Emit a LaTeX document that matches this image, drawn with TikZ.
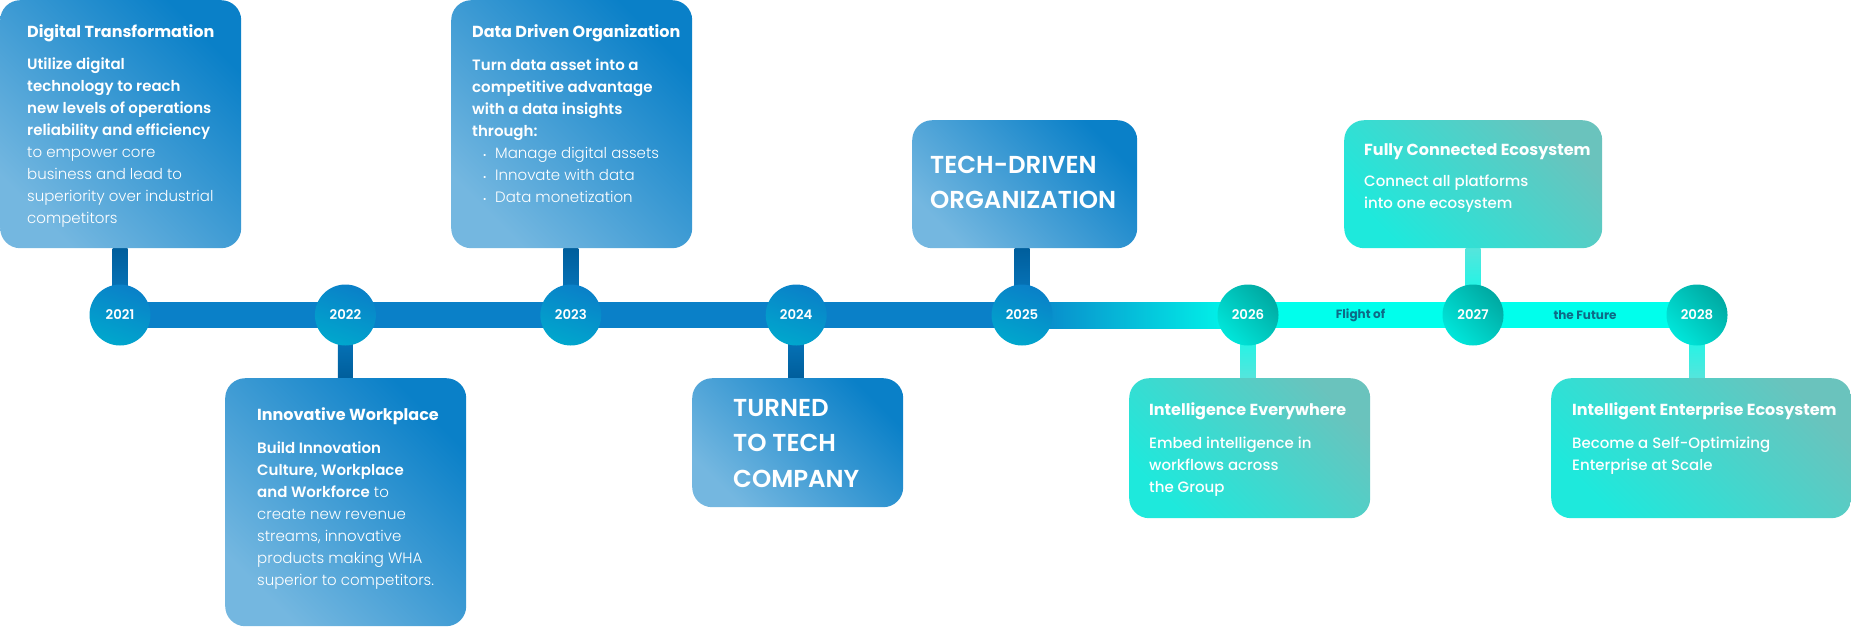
\documentclass[tikz,border=0pt]{standalone}
\usepackage{fontspec}
\setmainfont{Poppins}
\IfFontExistsTF{Poppins Light}{\newfontfamily\lightfont{Poppins Light}}{\def\lightfont{\mdseries}}
\IfFontExistsTF{Poppins SemiBold}{\newfontfamily\semifont{Poppins SemiBold}}{\def\semifont{\bfseries}}
\IfFontExistsTF{Poppins Medium}{\newfontfamily\mediumfont{Poppins Medium}}{\def\mediumfont{\mdseries}}
\usetikzlibrary{positioning,backgrounds,calc}

\definecolor{techblue}{HTML}{0A80C8}
\definecolor{techdark}{HTML}{005E9C}
\definecolor{techpale}{HTML}{74B7E0}
\definecolor{circblue}{HTML}{00A7CD}
\definecolor{futcyan}{HTML}{00FFEC}
\definecolor{futteal}{HTML}{00A9A2}
\definecolor{futmint}{HTML}{00E6DA}
\definecolor{futmuted}{HTML}{6AC3BD}
\definecolor{futbright}{HTML}{1EE9DC}
\definecolor{futstem}{HTML}{55E5DC}
\definecolor{flighttext}{HTML}{0E6A86}

\tikzset{
  plate/.style={rounded corners=20pt, inner sep=0pt, anchor=north west, shading angle=-45},
  blueplate/.style={plate, top color=techblue, bottom color=techpale, shading angle=-45},
  tealplate/.style={plate, top color=futmuted, bottom color=futbright, shading angle=-45},
  year/.style={circle, minimum size=61pt, inner sep=0pt, text=white,
    font=\fontsize{13.3}{13.3}\semifont},
  yearblue/.style={year, top color=techblue, bottom color=circblue, shading angle=-20},
  yearteal/.style={year, top color=futteal, bottom color=futmint, shading angle=-45},
  headline/.style={anchor=base west, inner sep=0pt, text=white,
    font=\fontsize{16}{22}\bfseries},
  bodytext/.style={anchor=base west, inner sep=0pt, text=white,
    font=\fontsize{15}{22}\lightfont},
  bigtext/.style={anchor=base west, inner sep=0pt, text=white,
    font=\fontsize{24.5}{35.5}\semifont},
  flight/.style={inner sep=0pt, text=flighttext, font=\fontsize{12}{12}\bfseries},
  stemup/.style={top color=techdark, bottom color=techblue},
  stemdown/.style={top color=techblue, bottom color=techdark},
  tealup/.style={top color=futstem, bottom color=futcyan},
  tealdown/.style={top color=futcyan, bottom color=futstem}
}
\newcommand\textlines[1]{\parbox[t]{280pt}{\raggedright #1}}
\newcommand\dotitem{\makebox[12pt][l]{\fontsize{9}{9}\selectfont\textbullet}}

\begin{document}
\begin{tikzpicture}[x=1pt,y=-1pt]
  % Canvas
  \useasboundingbox (0,0) rectangle (1851,627);
  %
  % Boxes
  \node[blueplate, minimum width=241pt, minimum height=248pt] (b2021) at (0,0) {};
  \node[blueplate, minimum width=241pt, minimum height=248pt] (b2022) at (225,378) {};
  \node[blueplate, minimum width=241pt, minimum height=248pt] (b2023) at (451,0) {};
  \node[blueplate, minimum width=211pt, minimum height=129pt] (b2024) at (692,378) {};
  \node[blueplate, minimum width=225pt, minimum height=128pt] (b2025) at (912,120) {};
  \node[tealplate, minimum width=241pt, minimum height=140pt] (b2026) at (1129,378) {};
  \node[tealplate, minimum width=258pt, minimum height=128pt] (b2027) at (1344,120) {};
  \node[tealplate, minimum width=300pt, minimum height=140pt] (b2028) at (1551,378) {};
  %
  % Box texts
  \node[headline] (h2021) at (27,37) {Digital Transformation};
  \node[bodytext] (t2021) at (27,69) {\textlines{{\semifont Utilize digital}\\
    {\semifont technology to reach}\\{\semifont new levels of operations}\\
    {\semifont reliability and efficiency}\\to empower core\\business and lead to\\
    superiority over industrial\\competitors}};
  \node[headline] (h2022) at (257,420) {Innovative Workplace};
  \node[bodytext] (t2022) at (257,453) {\textlines{{\semifont Build Innovation}\\
    {\semifont Culture, Workplace}\\{\semifont and Workforce} to\\
    create new revenue\\streams, innovative\\products making WHA\\
    superior to competitors.}};
  \node[headline] (h2023) at (472,37) {Data Driven Organization};
  \node[bodytext] (t2023) at (472,70) {\textlines{{\semifont Turn data asset into a}\\
    {\semifont competitive advantage}\\{\semifont with a data insights}\\
    {\semifont through:}}};
  \node[bodytext] (l2023) at (483,158) {\textlines{\dotitem Manage digital assets\\
    \dotitem Innovate with data\\\dotitem Data monetization}};
  \node[bigtext] (t2024) at (733,416) {\textlines{TURNED\\TO TECH\\COMPANY}};
  \node[bigtext] (t2025) at (930,173) {\textlines{TECH-DRIVEN\\ORGANIZATION}};
  \node[headline] (h2026) at (1149,415) {Intelligence Everywhere};
  \node[bodytext, font=\fontsize{15}{22}\mediumfont] (t2026) at (1149,448)
    {\textlines{Embed intelligence in\\workflows across\\the Group}};
  \node[headline] (h2027) at (1364,155) {Fully Connected Ecosystem};
  \node[bodytext, font=\fontsize{15}{22}\mediumfont] (t2027) at (1364,186)
    {\textlines{Connect all platforms\\into one ecosystem}};
  \node[headline] (h2028) at (1572,415) {Intelligent Enterprise Ecosystem};
  \node[bodytext, font=\fontsize{15}{22}\mediumfont] (t2028) at (1572,448)
    {\textlines{Become a Self-Optimizing\\Enterprise at Scale}};
  %
  % Years
  \node[yearblue] (y2021) at (120,315) {2021};
  \node[yearblue] (y2022) at (345.4,315) {2022};
  \node[yearblue] (y2023) at (570.8,315) {2023};
  \node[yearblue] (y2024) at (796.2,315) {2024};
  \node[yearblue] (y2025) at (1022,315) {2025};
  \node[yearteal] (y2026) at (1248,315) {2026};
  \node[yearteal] (y2027) at (1473,315) {2027};
  \node[yearteal] (y2028) at (1697,315) {2028};
  %
  % Labels on the line
  \node[flight] (fl1) at ($(y2026)!0.5!(y2027)$) {Flight of};
  \node[flight] (fl2) at ($(y2027)!0.5!(y2028)$) {the Future};
  %
  % Line and stems
  \begin{scope}[on background layer]
    \fill[techblue] ([yshift=13pt]y2021.center) rectangle ([yshift=-13pt]y2025.center);
    \shade[left color=techblue, right color=futcyan]
      ([yshift=13pt]y2025.center) rectangle ([yshift=-13pt]y2026.center);
    \fill[futcyan] ([yshift=13pt]y2026.center) rectangle ([yshift=-13pt]y2028.center);
    %
    \shade[stemup] ([xshift=-7.5pt]y2021.center) rectangle ([xshift=7.5pt]y2021 |- b2021.south);
    \shade[stemdown] ([xshift=-7.5pt]y2022.center) rectangle ([xshift=7.5pt]y2022 |- b2022.north);
    \shade[stemup] ([xshift=-7.5pt]y2023.center) rectangle ([xshift=7.5pt]y2023 |- b2023.south);
    \shade[stemdown] ([xshift=-7.5pt]y2024.center) rectangle ([xshift=7.5pt]y2024 |- b2024.north);
    \shade[stemup] ([xshift=-7.5pt]y2025.center) rectangle ([xshift=7.5pt]y2025 |- b2025.south);
    \shade[tealdown] ([xshift=-7.5pt]y2026.center) rectangle ([xshift=7.5pt]y2026 |- b2026.north);
    \shade[tealup] ([xshift=-7.5pt]y2027.center) rectangle ([xshift=7.5pt]y2027 |- b2027.south);
    \shade[tealdown] ([xshift=-7.5pt]y2028.center) rectangle ([xshift=7.5pt]y2028 |- b2028.north);
  \end{scope}
  %
\end{tikzpicture}
\end{document}
